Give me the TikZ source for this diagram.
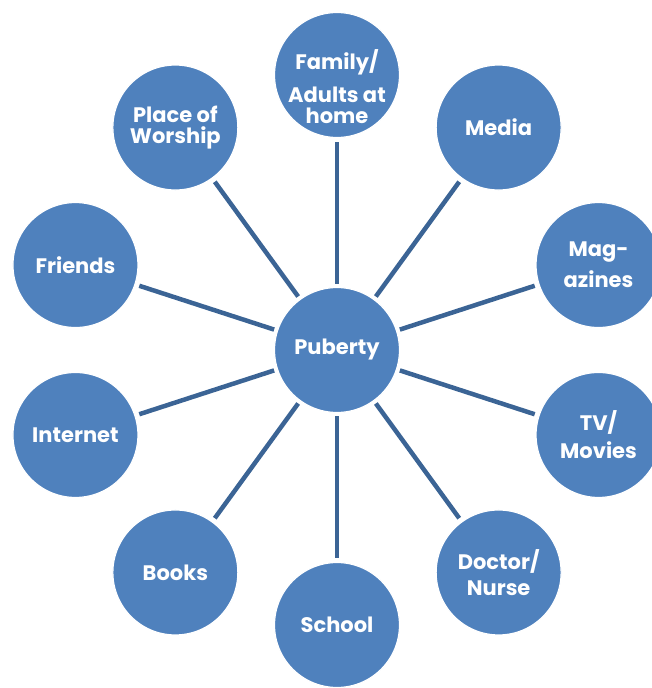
\documentclass[tikz,border=0pt]{standalone}
\usepackage{fontspec}
\setmainfont{Poppins}
\usepackage{xcolor}
\usetikzlibrary{positioning, calc}
\definecolor{bubblefill}{HTML}{4F81BD}
\definecolor{spokeline}{HTML}{3B6495}

\begin{document}
\begin{tikzpicture}[x=1pt,y=1pt,
    bubble/.style={circle, minimum size=125pt, inner sep=0pt, fill=bubblefill,
      draw=white, line width=1.2pt, text=white, align=center,
      font=\fontsize{21}{24}\selectfont\bfseries},
    bubbletext/.style={inner sep=0pt, text=white, align=center,
      font=\fontsize{21}{24}\selectfont\bfseries},
    spoke/.style={draw=spokeline, line width=4.5pt, shorten <=3pt, shorten >=4pt}]
      \useasboundingbox (-337,-338) rectangle (315,350);
      \node[bubble] (puberty) at (0,0) {Puberty};
      \node[bubble] (family) at (90:275) {};
      \node[bubbletext] (familytext) at ([yshift=-12pt]family.center)
        {Family/\\[9pt]Adults at\\[-3pt]home};
      \node[bubble] (media) at (54:275) {Media};
      \node[bubble] (magazines) at (18:275) {Mag-\\[7pt]azines};
      \node[bubble] (tvmovies) at (-18:275) {TV/\\[4pt]Movies};
      \node[bubble] (doctor) at (-54:275) {Doctor/\\[2pt]Nurse};
      \node[bubble] (school) at (-90:275) {School};
      \node[bubble] (books) at (-126:275) {Books};
      \node[bubble] (internet) at (-162:275) {Internet};
      \node[bubble] (friends) at (162:275) {Friends};
      \node[bubble] (worship) at (126:275) {Place of\\[-3pt]Worship};
      \draw[spoke] (puberty) -- (family);
      \draw[spoke] (puberty) -- (media);
      \draw[spoke] (puberty) -- (magazines);
      \draw[spoke] (puberty) -- (tvmovies);
      \draw[spoke] (puberty) -- (doctor);
      \draw[spoke] (puberty) -- (school);
      \draw[spoke] (puberty) -- (books);
      \draw[spoke] (puberty) -- (internet);
      \draw[spoke] (puberty) -- (friends);
      \draw[spoke] (puberty) -- (worship);
    \end{tikzpicture}
\end{document}
